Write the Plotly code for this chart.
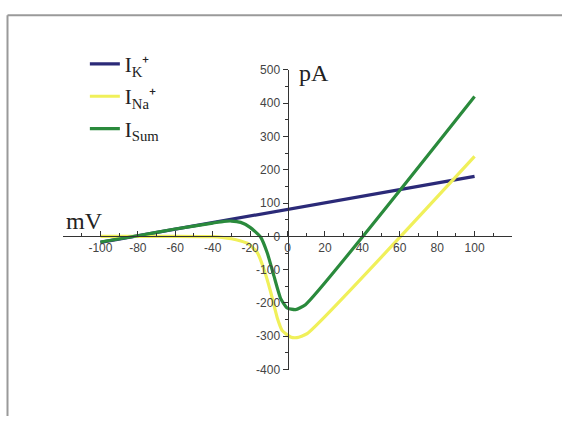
import plotly.graph_objects as go

# Data
v_k = [-100, -40, 0, 60, 100]
i_k = [-18, 42, 82, 141, 180]

v_na = [-100, -60, -40, -35, -30, -25, -21, -16, -12.6, -9, -5.5, -2.8, 1.6, 5, 10.5, 100]
i_na = [0, 0, -1, -3, -7, -14, -22, -50, -99, -167, -244, -283, -302, -304, -292, 240]

v_sum = [-100, -80, -60, -40, -34, -30, -25, -20, -14.4, -10.8, -7.3, -3.7, -0.2, 4.3, 9.6, 100]
i_sum = [-17, 2, 22, 40, 45, 46, 42, 27, -2, -50, -118, -186, -215, -220, -205, 420]

x_ticks = [-100, -80, -60, -40, -20, 0, 20, 40, 60, 80, 100]
x_labels = ["-100", "-80", "-60", "-40", "-20", "0", "20", "40", "60", "80", "100"]
y_ticks = [-400, -300, -200, -100, 0, 100, 200, 300, 400, 500]
y_labels = ["-400", "-300", "-200", "-100", "0", "100", "200", "300", "400", "500"]

BLUE = "#2B2A78"
YELLOW = "#F0F05A"
GREEN = "#2A8A3C"

fig = go.Figure()
fig.add_trace(go.Scatter(x=v_k, y=i_k, mode="lines", name="I<sub>K</sub>\u207a",
                         line=dict(color=BLUE, width=3.2), legendgroup="a"))
fig.add_trace(go.Scatter(x=v_na, y=i_na, mode="lines", name="I<sub>Na</sub>\u207a",
                         line=dict(color=YELLOW, width=3.2, shape="spline", smoothing=0.5), legendgroup="b"))
fig.add_trace(go.Scatter(x=v_sum, y=i_sum, mode="lines", name="I<sub>Sum</sub>",
                         line=dict(color=GREEN, width=3.2, shape="spline", smoothing=0.5), legendgroup="c"))

W, H = 562, 423
x_dom = [63 / W, 512 / W]
y_dom = [(H - 375) / H, (H - 65) / H]
y0_pos = (H - 237.2) / H
x0_pos = 287.5 / W

tickfont = dict(family="Liberation Sans, Arial, sans-serif", size=12, color="#444")

fig.update_layout(
    width=W, height=H,
    margin=dict(l=0, r=0, t=0, b=0),
    paper_bgcolor="white", plot_bgcolor="white",
    showlegend=True,
    legend=dict(x=0.151, y=0.91, xanchor="left", yanchor="top",
                font=dict(family="Liberation Serif, Times New Roman, serif", size=21, color="#222"),
                tracegroupgap=2, bgcolor="rgba(0,0,0,0)"),
    xaxis=dict(range=[-120, 120], domain=x_dom, anchor="free", position=y0_pos,
               showgrid=False, zeroline=False, showline=True, linecolor="#333", linewidth=1,
               ticks="inside", ticklen=5, tickcolor="#333", tickvals=x_ticks, ticktext=x_labels,
               tickfont=tickfont,
               minor=dict(dtick=10, tick0=0, ticks="inside", ticklen=3, tickcolor="#333")),
    yaxis=dict(range=[-400, 500], domain=y_dom, anchor="free", position=x0_pos,
               showgrid=False, zeroline=False, showline=True, linecolor="#333", linewidth=1,
               ticks="outside", ticklen=5, tickcolor="#333", tickvals=y_ticks, ticktext=y_labels,
               tickfont=tickfont,
               minor=dict(dtick=50, tick0=0, ticks="outside", ticklen=3, tickcolor="#333")),
    annotations=[
        dict(text="mV", xref="paper", yref="paper", x=84 / W, y=(H - 221) / H,
             xanchor="center", yanchor="middle", showarrow=False,
             font=dict(family="Liberation Serif, Times New Roman, serif", size=24, color="#222")),
        dict(text="pA", xref="paper", yref="paper", x=314 / W, y=(H - 68) / H,
             xanchor="center", yanchor="middle", showarrow=False,
             font=dict(family="Liberation Serif, Times New Roman, serif", size=24, color="#222")),
    ],
    shapes=[
        dict(type="line", xref="paper", yref="paper", x0=7.5 / W, x1=1, y0=(H - 8.5) / H, y1=(H - 8.5) / H,
             line=dict(color="#9a9a9a", width=2)),
        dict(type="line", xref="paper", yref="paper", x0=7.5 / W, x1=7.5 / W, y0=0, y1=(H - 8.5) / H,
             line=dict(color="#9a9a9a", width=2)),
    ],
)

fig.write_html("out.html", config={"displayModeBar": False},
               post_script="document.body.style.margin='0';document.body.style.overflow='hidden';")
